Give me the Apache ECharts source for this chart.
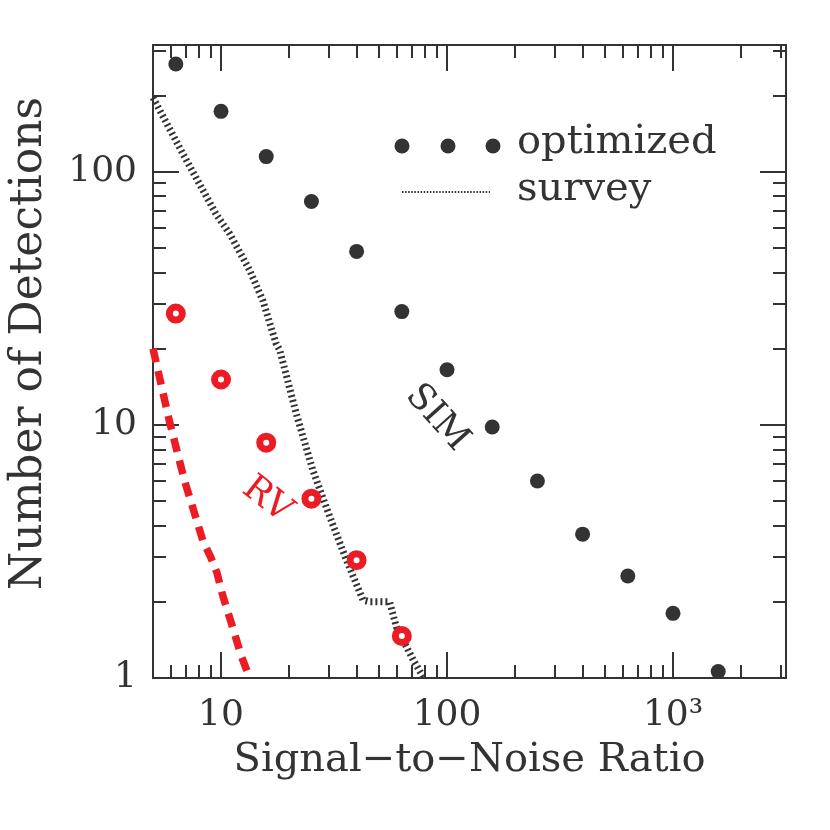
<!DOCTYPE html>
<html>
<head>
<meta charset="utf-8">
<script src="https://cdn.jsdelivr.net/npm/echarts@6/dist/echarts.min.js"></script>
<style>html,body{margin:0;padding:0;background:#fff}#c{width:830px;height:830px}</style>
</head>
<body>
<div id="c"></div>
<script>
// ---- data ----
const optX = [6.31, 10, 15.85, 25.12, 39.81, 63.1, 100, 158.5, 251.2, 398.1, 631.0, 1000, 1585];
const optY = [266, 173, 114.6, 76.2, 48.4, 28.0, 16.5, 9.8, 6.0, 3.7, 2.53, 1.80, 1.06];
const rvOptX = [6.31, 10, 15.85, 25.12, 39.81, 63.1];
const rvOptY = [27.5, 15.1, 8.5, 5.11, 2.92, 1.465];
const surveyX = [5.0, 6.8, 9.5, 10.9, 13.4, 15.3, 17.5, 18.2, 21.5, 25.5, 30.3, 35.9, 42.5, 45.5, 55.7, 59.7, 70.8, 78.4];
const surveyY = [196, 117, 68, 57, 40.7, 31, 21, 19.7, 11.1, 6.6, 4.33, 2.92, 2.03, 2.0, 2.0, 1.59, 1.18, 1.01];
const rvSurveyX = [5.0, 5.9, 6.9, 8.3, 9.0, 9.6, 10.2, 11.1, 12.3, 13.4];
const rvSurveyY = [20, 10.4, 6.0, 3.5, 3.0, 2.6, 2.1, 1.65, 1.22, 1.0];
const xMajor = [10, 100, 1000];
const xMinor = [6, 7, 8, 9, 20, 30, 40, 50, 60, 70, 80, 90, 200, 300, 400, 500, 600, 700, 800, 900, 2000, 3000];
const yMajor = [1, 10, 100];
const yMinor = [2, 3, 4, 5, 6, 7, 8, 9, 20, 30, 40, 50, 60, 70, 80, 90, 200, 300];
const xRange = [5, 3162.28];
const yRange = [1, 316.23];

const FONT = 'DejaVu Serif';
const INK = '#333333';
const RED = '#ec1c24';

const zip = (a, b) => a.map((v, i) => [v, b[i]]);

function mkAxis(dim, pos, ticks, len, withLabels, showLine) {
  const range = dim === 'x' ? xRange : yRange;
  const ax = {
    type: 'log', logBase: 10, gridIndex: 0, position: pos,
    min: range[0], max: range[1],
    axisLine: { show: showLine, onZero: false, lineStyle: { color: INK, width: 2 } },
    axisTick: { show: true, inside: true, length: len, customValues: ticks, lineStyle: { color: INK, width: 2 } },
    minorTick: { show: false },
    splitLine: { show: false },
    axisLabel: { show: false }
  };
  if (withLabels) {
    ax.axisLabel = {
      show: true, customValues: ticks, fontFamily: FONT, fontSize: 36, color: INK,
      margin: dim === 'x' ? 20 : 16,
      formatter: v => (v === 1000 ? '10\u00B3' : String(Math.round(v)))
    };
  }
  return ax;
}

const xAxes = [
  mkAxis('x', 'bottom', xMajor, 26, true, true),
  mkAxis('x', 'bottom', xMinor, 13, false, false),
  mkAxis('x', 'top', xMajor, 26, false, true),
  mkAxis('x', 'top', xMinor, 13, false, false)
];
xAxes[0].name = 'Signal\u2212to\u2212Noise Ratio';
xAxes[0].nameLocation = 'middle';
xAxes[0].nameGap = 63;
xAxes[0].nameTextStyle = { fontFamily: FONT, fontSize: 40, color: INK };

const yAxes = [
  mkAxis('y', 'left', yMajor, 26, true, true),
  mkAxis('y', 'left', yMinor, 13, false, false),
  mkAxis('y', 'right', yMajor, 26, false, true),
  mkAxis('y', 'right', yMinor, 13, false, false)
];
yAxes[0].name = 'Number of Detections';
yAxes[0].nameLocation = 'middle';
yAxes[0].nameGap = 101;
yAxes[0].nameTextStyle = { fontFamily: FONT, fontSize: 44, color: INK, padding: [0, 0, 0, 36] };

const chart = echarts.init(document.getElementById('c'), null, { renderer: 'canvas' });
chart.setOption({
  animation: false,
  backgroundColor: '#fff',
  grid: { left: 153, top: 45, width: 633, height: 633, containLabel: false, outerBoundsMode: 'none' },
  xAxis: xAxes,
  yAxis: yAxes,
  series: [
    {
      name: 'survey', type: 'line', data: zip(surveyX, surveyY), symbol: 'none',
      lineStyle: { color: INK, width: 7, type: [2, 3], cap: 'butt' }, z: 2
    },
    {
      name: 'RV survey', type: 'line', data: zip(rvSurveyX, rvSurveyY), symbol: 'none',
      lineStyle: { color: RED, width: 7.5, type: [14, 9], cap: 'butt' }, z: 2
    },
    {
      name: 'optimized', type: 'scatter', data: zip(optX, optY), symbol: 'circle', symbolSize: 15,
      itemStyle: { color: INK, opacity: 1 }, z: 3
    },
    {
      name: 'RV optimized', type: 'scatter', data: zip(rvOptX, rvOptY), symbol: 'circle', symbolSize: 13,
      itemStyle: { color: '#ffffff', borderColor: RED, borderWidth: 7, opacity: 1 }, z: 4
    }
  ],
  graphic: [
    { type: 'circle', shape: { cx: 402, cy: 146, r: 7.5 }, style: { fill: INK }, z: 10 },
    { type: 'circle', shape: { cx: 448, cy: 146, r: 7.5 }, style: { fill: INK }, z: 10 },
    { type: 'circle', shape: { cx: 493, cy: 146, r: 7.5 }, style: { fill: INK }, z: 10 },
    { type: 'text', x: 517, y: 143, style: { text: 'optimized', font: '40px "DejaVu Serif"', fill: INK, textAlign: 'left', textVerticalAlign: 'middle' }, z: 10 },
    { type: 'line', shape: { x1: 402, y1: 192, x2: 490, y2: 192 }, style: { stroke: INK, lineWidth: 2, lineDash: [1.5, 1.6] }, z: 10 },
    { type: 'text', x: 517, y: 190, style: { text: 'survey', font: '40px "DejaVu Serif"', fill: INK, textAlign: 'left', textVerticalAlign: 'middle' }, z: 10 },
    { type: 'text', x: 437, y: 418, rotation: -48 * Math.PI / 180, style: { text: 'SIM', font: '36px "DejaVu Serif"', fill: INK, textAlign: 'center', textVerticalAlign: 'middle' }, z: 10 },
    { type: 'text', x: 267, y: 500, rotation: -38 * Math.PI / 180, style: { text: 'RV', font: '36px "DejaVu Serif"', fill: RED, textAlign: 'center', textVerticalAlign: 'middle' }, z: 10 }
  ]
});
</script>
</body>
</html>
